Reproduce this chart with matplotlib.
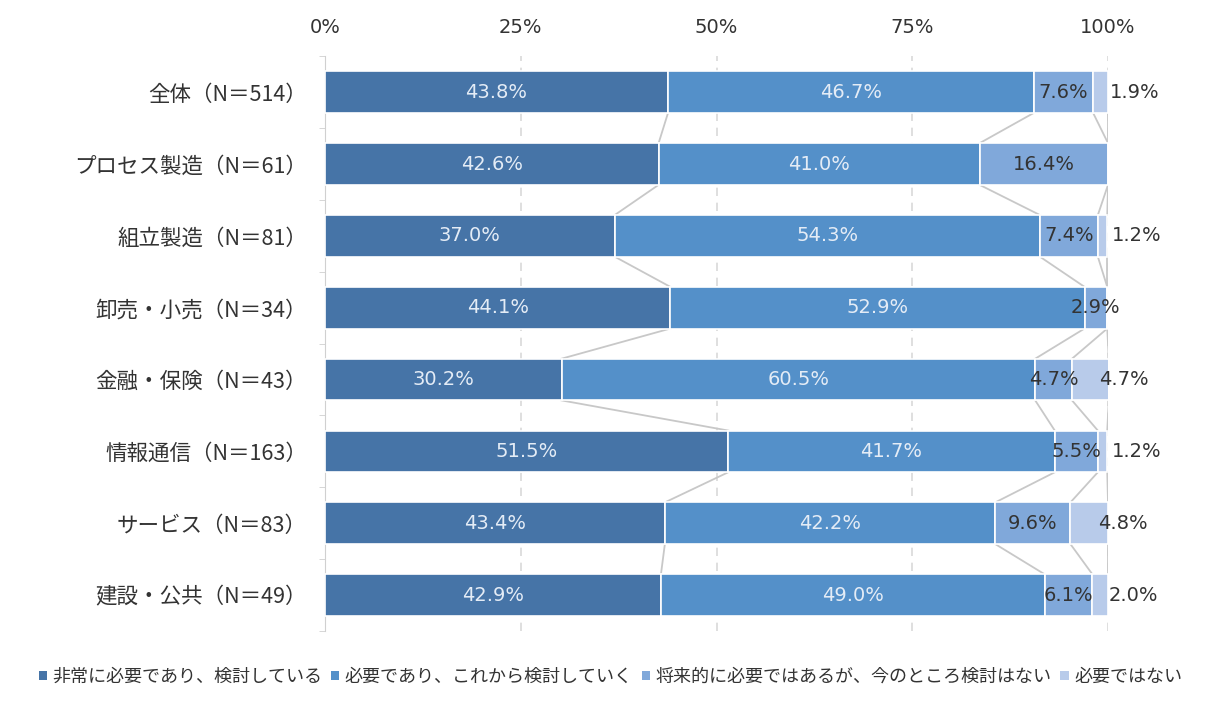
import numpy as np
import matplotlib

matplotlib.use("Agg")
import matplotlib.pyplot as plt
from matplotlib.patches import Patch

plt.rcParams["font.family"] = ["Noto Sans CJK JP", "DejaVu Sans"]

categories = ["全体（N＝514）", "プロセス製造（N＝61）", "組立製造（N＝81）", "卸売・小売（N＝34）",
              "金融・保険（N＝43）", "情報通信（N＝163）", "サービス（N＝83）", "建設・公共（N＝49）"]
series_names = ["非常に必要であり、検討している", "必要であり、これから検討していく",
                "将来的に必要ではあるが、今のところ検討はない", "必要ではない"]
very_needed = [43.8, 42.6, 37.0, 44.1, 30.2, 51.5, 43.4, 42.9]
needed = [46.7, 41.0, 54.3, 52.9, 60.5, 41.7, 42.2, 49.0]
future = [7.6, 16.4, 7.4, 2.9, 4.7, 5.5, 9.6, 6.1]
not_needed = [1.9, 0.0, 1.2, 0.0, 4.7, 1.2, 4.8, 2.0]
tick_labels = ["0%", "25%", "50%", "75%", "100%"]

colors = ["#4674a7", "#5490c9", "#80a8da", "#b8cbea"]
label_colors = ["#e4ecf6", "#e4ecf6", "#333333", "#333333"]
num_font = ["DejaVu Sans"]

fig = plt.figure(figsize=(12.28, 7.03), dpi=100)
ax = fig.add_axes([0.2647, 0.1024, 0.6376, 0.8176])

data = np.array([very_needed, needed, future, not_needed])
y = np.arange(len(categories))
bar_h = 0.58
left = np.zeros(len(categories))
for k, vals in enumerate(data):
    ax.barh(y, vals, left=left, height=bar_h, color=colors[k], edgecolor="white", linewidth=1.2, zorder=3)
    for i, v in enumerate(vals):
        if v <= 0:
            continue
        cx = left[i] + v / 2
        if k == 3:
            cx += 4.3
        ax.text(cx, y[i], f"{v:.1f}%", ha="center", va="center", fontsize=14,
                family=num_font, color=label_colors[k], zorder=5)
    left = left + vals

# series lines between neighbouring bars
cum = np.cumsum(data, axis=0)
for k in range(4):
    for i in range(len(categories) - 1):
        ax.plot([cum[k, i], cum[k, i + 1]], [y[i] + bar_h / 2, y[i + 1] - bar_h / 2],
                color="#c8c8c8", linewidth=1.3, zorder=2)

ax.set_xlim(0, 100)
ax.set_ylim(len(categories) - 0.5, -0.5)
ax.set_yticks(y)
ax.set_yticklabels(categories, fontsize=15.5, color="#333333")
ax.set_yticks(np.arange(-0.5, len(categories)), minor=True)
ax.tick_params(axis="y", which="major", length=0, pad=13)
ax.tick_params(axis="y", which="minor", length=4, color="#d0d0d0")
ax.set_xticks([0, 25, 50, 75, 100])
ax.set_xticklabels(tick_labels, fontsize=14, color="#333333", family=num_font)
ax.xaxis.tick_top()
ax.tick_params(axis="x", length=0, pad=14)
ax.grid(axis="x", color="#d9d9d9", linestyle=(0, (5, 4)), linewidth=1.2, zorder=0)
for s in ["top", "right", "bottom"]:
    ax.spines[s].set_visible(False)
ax.spines["left"].set_color("#d0d0d0")

handles = [Patch(facecolor=c, edgecolor="none") for c in colors]
fig.legend(handles, series_names, loc="center", bbox_to_anchor=(0.497, 0.037), ncol=4,
           frameon=False, fontsize=13, handlelength=0.45, handleheight=0.45,
           handletextpad=0.3, columnspacing=0.5, labelcolor="#333333")

fig.savefig("out.png", dpi=100)
plt.close(fig)
